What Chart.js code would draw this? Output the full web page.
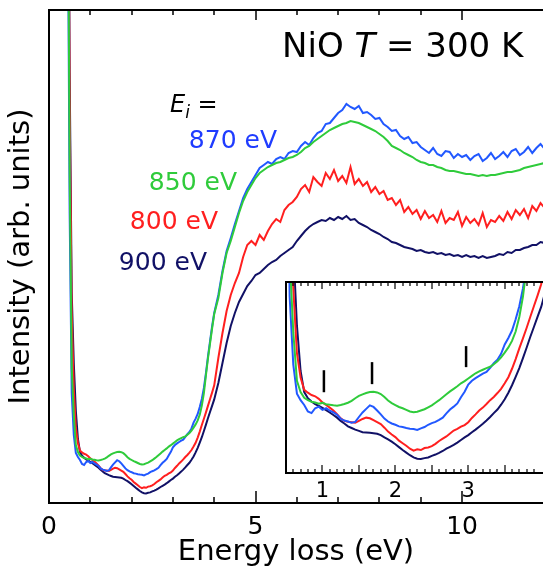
<!DOCTYPE html>
<html>
<head>
<meta charset="utf-8">
<script src="https://cdn.jsdelivr.net/npm/chart.js@4"></script>
<style>
  html, body { margin: 0; padding: 0; background: #fff; }
  #wrap { position: relative; width: 543px; height: 583px; overflow: hidden; }
  #main { position: absolute; left: 0; top: 0; }
  #inset { position: absolute; left: 270px; top: 270px; }
</style>
</head>
<body>
<div id="wrap">
  <canvas id="main" width="543" height="583"></canvas>
  <canvas id="inset" width="273" height="240"></canvas>
</div>
<script>
// --- DATA (energy loss in eV, intensity in arb. units) ---
const energy = [
  0.40, 0.45, 0.50, 0.55, 0.60, 0.65, 0.70, 0.75, 0.80, 0.85,
  0.90, 0.95, 1.00, 1.05, 1.10, 1.15, 1.20, 1.25, 1.30, 1.35,
  1.40, 1.45, 1.50, 1.55, 1.60, 1.65, 1.70, 1.75, 1.80, 1.85,
  1.90, 1.95, 2.00, 2.05, 2.10, 2.15, 2.20, 2.25, 2.30, 2.35,
  2.40, 2.45, 2.50, 2.55, 2.60, 2.65, 2.70, 2.75, 2.80, 2.85,
  2.90, 2.95, 3.00, 3.05, 3.10, 3.15, 3.20, 3.25, 3.30, 3.35,
  3.40, 3.45, 3.50, 3.55, 3.60, 3.65, 3.70, 3.75, 3.80, 3.85,
  3.90, 3.95, 4.00,
  4.1, 4.2, 4.3, 4.4, 4.5, 4.6, 4.7, 4.8, 4.9, 5.0,
  5.1, 5.2, 5.3, 5.4, 5.5, 5.6, 5.7, 5.8, 5.9, 6.0,
  6.1, 6.2, 6.3, 6.4, 6.5, 6.6, 6.7, 6.8, 6.9, 7.0,
  7.1, 7.2, 7.3, 7.4, 7.5, 7.6, 7.7, 7.8, 7.9, 8.0,
  8.1, 8.2, 8.3, 8.4, 8.5, 8.6, 8.7, 8.8, 8.9, 9.0,
  9.1, 9.2, 9.3, 9.4, 9.5, 9.6, 9.7, 9.8, 9.9, 10.0,
  10.1, 10.2, 10.3, 10.4, 10.5, 10.6, 10.7, 10.8, 10.9, 11.0,
  11.1, 11.2, 11.3, 11.4, 11.5, 11.6, 11.7, 11.8, 11.9, 12.0
];

// Ei = 870 eV (blue)
const y870 = [
  1500, 650, 290, 110, 68, 50, 46, 43, 39, 38,
  41, 42, 40, 41, 39.5, 38.4, 37, 34.5, 33.4, 32.8,
  32, 32.6, 35.6, 38.4, 40.6, 42.8, 41.8, 39.6, 37.2, 34.6,
  32.8, 31.6, 30.8, 29.8, 29.4, 28.8, 28.4, 28.2, 27.6, 28.6,
  29.4, 30.8, 31.8, 32.6, 33.8, 35.2, 37.8, 40.2, 42, 44,
  47.8, 51.2, 55.6, 58, 59.6, 61, 62.4, 63.4, 66, 68.8,
  71, 74.6, 80.4, 84.4, 89, 96, 104, 115, 130, 147,
  162, 177, 190,
  208, 232, 252, 265, 279, 292, 305, 314, 321, 328,
  335, 338, 341, 339, 344, 346, 344, 350, 352, 351,
  357, 361, 358, 365, 370, 372, 379, 380, 385, 390,
  393, 399, 396, 394, 397, 390, 391, 388, 384, 385,
  379, 376, 372, 373, 367, 364, 366, 360, 361, 356,
  353, 350, 355, 349, 347, 352, 351, 345, 349, 346,
  348, 343, 347, 349, 342, 345, 350, 344, 347, 351,
  346, 352, 354, 348, 351, 356, 350, 355, 359, 354
];

// Ei = 850 eV (green)
const y850 = [
  1500, 700, 330, 135, 88, 58, 51, 47.5, 46, 45,
  44.5, 43.8, 44.3, 43.5, 43.2, 42.8, 42.6, 43, 43.6, 44.4,
  45.6, 47.2, 48.6, 49.6, 50.4, 51, 51.2, 50.8, 49.8, 48,
  45.8, 44.2, 43, 41.8, 41, 40, 39, 38.5, 38.8, 39.6,
  40.4, 41.6, 42.8, 44.4, 46, 47.8, 49.6, 51.4, 53, 54.6,
  56.4, 57.8, 59.4, 61, 62.6, 63.8, 64.8, 65.8, 66.6, 68.2,
  70, 72.4, 75.4, 78.6, 82.6, 88.4, 97.4, 110, 128, 145,
  160, 175, 189,
  205, 230, 250, 262, 276, 290, 302, 311, 318, 325,
  330, 333, 336, 338, 340, 341, 343, 345, 346, 348,
  351, 355, 357, 361, 364, 367, 370, 373, 375, 377,
  379, 380, 382, 381, 380, 378, 376, 374, 372, 369,
  366, 362, 357, 355, 353, 350, 348, 346, 343, 341,
  340, 338, 338, 336, 335, 333, 332, 332, 331, 330,
  329, 329, 328, 327, 328, 327, 328, 328, 329, 330,
  331, 331, 332, 333, 335, 336, 337, 338, 339, 340
];

// Ei = 800 eV (red)
const y800 = [
  1600, 800, 400, 190, 115, 75, 60, 52.4, 50.6, 49.2,
  48.4, 46.8, 44.6, 43, 41.4, 39.6, 37.4, 34.8, 33.2, 32.6,
  32.4, 32, 33.2, 34.4, 35.2, 34.8, 33.6, 32.4, 31.2, 29,
  26.6, 24.8, 23.2, 21, 19.4, 17.8, 16, 14.8, 15.6, 15.2,
  16.4, 16.8, 17.6, 19, 20.8, 22.2, 23.6, 25.4, 27.2, 28.2,
  29.6, 30.6, 32.4, 35, 37.2, 39.6, 41.4, 43.6, 46, 48,
  50.4, 53, 56.4, 60.2, 65.4, 71.4, 78, 84.2, 90.6, 97.4,
  104, 110.6, 117.6,
  145, 170, 192, 208, 220, 230, 246, 258, 262, 258,
  268, 263, 272, 279, 284, 281, 293, 298, 301, 306,
  314, 318, 311, 326, 321, 317, 330, 324, 333, 322,
  327, 320, 336, 319, 324, 317, 321, 311, 316, 309,
  312, 303, 305, 298, 303, 291, 296, 289, 293, 284,
  292, 285, 288, 281, 292, 280, 285, 283, 291, 277,
  286, 280, 284, 278, 290, 276, 283, 281, 287, 282,
  291, 284, 293, 288, 294, 285, 297, 292, 300, 295
];

// Ei = 900 eV (navy)
const y900 = [
  1700, 850, 430, 210, 140, 92, 64, 51, 47.2, 45.2,
  43.6, 42.4, 41.2, 39.8, 38.4, 36.8, 35.2, 33.2, 31.6, 29.8,
  28.8, 27.8, 27, 26.2, 26, 25.8, 25.6, 25.2, 24.4, 23,
  21.8, 20.4, 18.8, 17, 15.2, 13.6, 12, 10.6, 9.8, 9.6,
  10.2, 10.6, 11.6, 12.4, 13.4, 14.6, 16, 17.2, 18.4, 19.8,
  21.4, 23, 24.4, 26.2, 27.8, 29.6, 31.4, 33.4, 35.6, 38,
  40.2, 43.2, 46.6, 50.6, 55.2, 60.4, 65.8, 72, 78.4, 85,
  91.2, 97.4, 103.6,
  120, 140, 160, 177, 190, 201, 209, 217, 222, 228,
  230, 234, 238, 241, 243, 247, 250, 253, 256, 262,
  267, 272, 276, 279, 281, 283, 282, 285, 283, 286,
  284, 287, 283, 284, 280, 278, 276, 273, 271, 269,
  266, 264, 261, 260, 258, 256, 255, 254, 252, 253,
  251, 250, 251, 249, 250, 248, 249, 247, 248, 246,
  248, 246, 247, 245, 247, 245, 246, 247, 249, 248,
  251, 250, 253, 253, 255, 256, 258, 258, 261, 260
];

const seriesNames = ['870 eV', '850 eV', '800 eV', '900 eV'];
const seriesValues = [y870, y850, y800, y900];
const seriesColors = ['#2158ff', '#2fcb3b', '#ff1f1f', '#111166'];
const labelColors = ['#1f3cff', '#2fcb3b', '#ff1f1f', '#111166'];

const mainTickLabels = [0, 5, 10];
const insetTickLabels = [1, 2, 3];

// short vertical markers in the inset
const markerEnergy = [1.02, 1.68, 2.97];
const markerLow = [50.9, 55.9, 66.4];
const markerHigh = [64.5, 69.5, 79.4];

// --- HELPERS ---
const FONT = 'DejaVu Sans';
const drawOrder = [1, 0, 2, 3]; // green on top, then blue, red, navy

function curveDatasets(width) {
  return seriesValues.map((vals, i) => ({
    label: seriesNames[i],
    data: energy.map((e, j) => ({ x: e, y: vals[j] })),
    borderColor: seriesColors[i],
    borderWidth: width,
    pointRadius: 0,
    tension: 0,
    fill: false,
    order: drawOrder[i]
  }));
}

// inward tick marks + open frame (left, top, bottom)
function frameTicks(o) {
  return {
    id: 'frameTicks',
    beforeDatasetsDraw(chart) {
      if (!o.whiteBg) return;
      const a = chart.chartArea;
      chart.ctx.save();
      chart.ctx.fillStyle = '#fff';
      chart.ctx.fillRect(a.left, a.top, a.right - a.left, a.bottom - a.top);
      chart.ctx.restore();
    },
    afterDatasetsDraw(chart) {
      const { ctx, chartArea: a, scales: { x } } = chart;
      ctx.save();
      ctx.strokeStyle = '#000';
      ctx.lineWidth = o.tickWidth;
      x.ticks.forEach(t => {
        const v = t.value;
        if (Math.abs(v / o.step - Math.round(v / o.step)) > 1e-6) return;
        const major = Math.abs(v / o.majorStep - Math.round(v / o.majorStep)) < 1e-6;
        const px = Math.round(x.getPixelForValue(v));
        ctx.beginPath();
        ctx.moveTo(px, a.bottom);
        ctx.lineTo(px, a.bottom - (major ? o.bottomMajor : o.bottomMinor));
        ctx.moveTo(px, a.top);
        ctx.lineTo(px, a.top + (major ? o.topMajor : o.topMinor));
        ctx.stroke();
      });
      ctx.lineWidth = o.frameWidth;
      ctx.beginPath();
      ctx.moveTo(a.right + 4, a.top);
      ctx.lineTo(a.left, a.top);
      ctx.lineTo(a.left, a.bottom);
      ctx.lineTo(a.right + 4, a.bottom);
      ctx.stroke();
      ctx.restore();
    }
  };
}

// text annotations of the main panel
const labelPos = [[277, 148], [237, 190], [218, 229], [207, 270]];
const annotations = {
  id: 'annotations',
  afterDraw(chart) {
    const ctx = chart.ctx;
    ctx.save();
    ctx.textBaseline = 'alphabetic';
    ctx.fillStyle = '#000';

    let x = 282;
    [['NiO ', 'normal'], ['T', 'italic'], [' = 300 K', 'normal']].forEach(([s, st]) => {
      ctx.font = `${st} 34px "${FONT}"`;
      ctx.fillText(s, x, 57);
      x += ctx.measureText(s).width;
    });

    ctx.font = `italic 24px "${FONT}"`;
    ctx.fillText('E', 170, 112);
    let w = ctx.measureText('E').width;
    ctx.font = `italic 17px "${FONT}"`;
    ctx.fillText('i', 170 + w, 118);
    w += ctx.measureText('i').width;
    ctx.font = `24px "${FONT}"`;
    ctx.fillText(' =', 170 + w, 112);

    ctx.textAlign = 'right';
    ctx.font = `25px "${FONT}"`;
    labelPos.forEach(([lx, ly], i) => {
      ctx.fillStyle = labelColors[i];
      ctx.fillText(seriesNames[i], lx, ly);
    });
    ctx.restore();
  }
};

// --- MAIN CHART ---
new Chart(document.getElementById('main'), {
  type: 'line',
  data: { datasets: curveDatasets(2) },
  options: {
    responsive: false,
    animation: false,
    layout: { padding: { top: 10, left: 0, right: 0, bottom: 0 } },
    plugins: { legend: { display: false }, tooltip: { enabled: false } },
    scales: {
      x: {
        type: 'linear',
        min: 0,
        max: 11.96,
        border: { display: false },
        grid: { display: false, drawTicks: true, tickLength: 9 },
        ticks: {
          stepSize: 1,
          maxTicksLimit: 1000,
          autoSkip: false,
          maxRotation: 0,
          padding: 0,
          color: '#000',
          font: { family: FONT, size: 25 },
          callback: v => mainTickLabels.includes(v) ? String(v) : ''
        },
        title: {
          display: true,
          text: 'Energy loss (eV)',
          color: '#000',
          font: { family: FONT, size: 29 },
          padding: { top: 0, bottom: 13 }
        },
        afterFit(s) { s.height = 80; }
      },
      y: {
        min: 0,
        max: 493,
        border: { display: false },
        grid: { display: false, drawTicks: false },
        ticks: { display: false },
        title: {
          display: true,
          text: 'Intensity (arb. units)',
          color: '#000',
          font: { family: FONT, size: 29 },
          padding: { top: 4, bottom: 0 }
        },
        afterFit(s) { s.width = 49; }
      }
    }
  },
  plugins: [frameTicks({
    step: 1, majorStep: 5, tickWidth: 1.5, frameWidth: 2,
    bottomMajor: 12, bottomMinor: 6, topMajor: 10, topMinor: 5
  }), annotations]
});

// --- INSET ---
const markerSets = markerEnergy.map((e, i) => ({
  data: [{ x: e, y: markerLow[i] }, { x: e, y: markerHigh[i] }],
  borderColor: '#000',
  borderWidth: 2.5,
  pointRadius: 0,
  order: -1
}));

new Chart(document.getElementById('inset'), {
  type: 'line',
  data: { datasets: curveDatasets(2).concat(markerSets) },
  options: {
    responsive: false,
    animation: false,
    layout: { padding: { top: 12, left: 16, right: 0, bottom: 0 } },
    plugins: { legend: { display: false }, tooltip: { enabled: false } },
    scales: {
      x: {
        type: 'linear',
        min: 0.5,
        max: 4.025,
        border: { display: false },
        grid: { display: false, drawTicks: true, tickLength: 6 },
        ticks: {
          stepSize: 0.1,
          maxTicksLimit: 1000,
          autoSkip: false,
          maxRotation: 0,
          padding: 0,
          color: '#000',
          font: { family: FONT, size: 21 },
          callback: v => {
            const r = Math.round(v * 1000) / 1000;
            return insetTickLabels.includes(r) ? String(r) : '';
          }
        },
        afterFit(s) { s.height = 37; }
      },
      y: { display: false, min: 1, max: 119 }
    }
  },
  plugins: [frameTicks({
    whiteBg: true, step: 0.1, majorStep: 0.5, tickWidth: 1.2, frameWidth: 2,
    bottomMajor: 8, bottomMinor: 4, topMajor: 7, topMinor: 4
  })]
});
</script>
</body>
</html>
